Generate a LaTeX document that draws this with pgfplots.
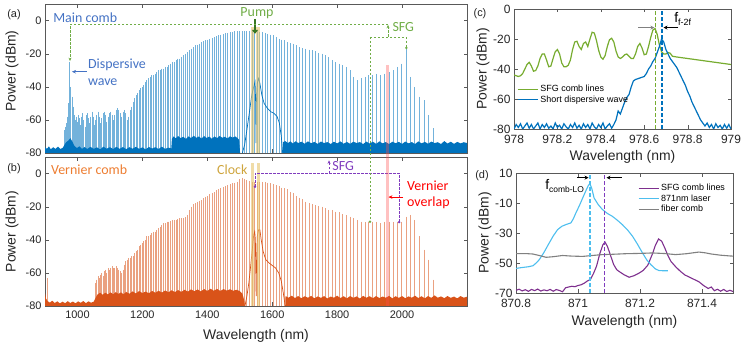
\documentclass[border=0pt]{standalone}
\usepackage{fontspec}
\setmainfont{Liberation Sans}
\newfontfamily\calib{Carlito}
\usepackage{pgfplots}
\usepackage{pgfplotstable}
\pgfplotsset{compat=1.18}
\usetikzlibrary{arrows.meta}

\definecolor{mblue}{RGB}{0,114,189}
\definecolor{morange}{RGB}{217,83,25}
\definecolor{mgreen}{RGB}{119,172,48}
\definecolor{mpurple}{RGB}{126,47,142}
\definecolor{mcyan}{RGB}{77,190,238}
\definecolor{agreen}{RGB}{112,173,71}
\definecolor{dgreen}{RGB}{56,118,34}
\definecolor{apurple}{RGB}{128,60,190}
\definecolor{ablue}{RGB}{68,114,196}
\definecolor{aorange}{RGB}{237,125,49}
\definecolor{clockc}{RGB}{206,164,60}
\definecolor{bandc}{RGB}{230,196,110}

\newcommand\tlfont{\fontsize{11}{12}\selectfont}
\newcommand\tlfontc{\fontsize{12}{13}\selectfont}
\newcommand\lbfont{\fontsize{14}{16}\selectfont}
\newcommand\anfont{\calib\fontsize{14}{16}\selectfont}

% main comb (a): line wavelength (nm), peak power (dBm)
\pgfplotstableread{
x y
960.9 -66
964.0 -64
967.1 -62
970.2 -58
973.4 -50
976.5 -25
979.7 -40
982.9 -46
986.2 -52
989.4 -57
992.7 -60
996.0 -58
999.3 -61
1002.7 -57
1006.0 -59
1009.4 -63
1012.8 -58
1016.3 -56
1019.7 -60
1023.2 -64
1026.7 -57
1030.2 -56
1033.8 -59
1037.3 -62
1040.9 -58
1044.6 -55
1048.2 -58
1051.9 -63
1055.6 -60
1059.3 -57
1063.1 -55
1066.9 -58
1070.7 -62
1074.5 -59
1078.4 -56
1082.3 -55
1086.2 -57
1090.2 -61
1094.1 -58
1098.1 -56
1102.2 -55
1106.2 -57
1110.3 -60
1114.5 -57
1118.6 -54
1122.8 -53
1127.0 -54
1131.3 -56
1135.6 -58
1139.9 -55
1144.2 -54
1148.6 -56
1153.0 -60
1157.5 -58
1162.0 -54
1166.5 -52
1171.1 -49
1175.7 -47
1180.3 -45
1184.9 -44
1189.7 -42
1194.4 -41
1199.2 -40
1204.0 -39
1208.8 -37
1213.7 -36
1218.7 -35
1223.6 -34
1228.7 -33
1233.7 -33
1238.8 -32
1243.9 -31
1249.1 -30
1254.3 -30
1259.6 -29
1264.9 -29
1270.3 -28
1275.7 -28
1281.2 -27
1286.7 -26
1292.2 -25
1297.8 -25
1303.4 -24
1309.1 -23
1314.9 -23
1320.7 -22
1326.5 -21
1332.4 -20
1338.4 -19
1344.4 -18
1350.4 -17
1356.5 -16
1362.7 -15
1368.9 -14.5
1375.2 -14
1381.5 -13
1387.9 -12.5
1394.4 -12
1400.9 -11.5
1407.5 -11
1414.1 -10.5
1420.8 -10
1427.6 -9.5
1434.4 -9
1441.3 -8.5
1448.3 -8
1455.3 -7.5
1462.4 -7.5
1469.6 -7
1476.8 -7
1484.1 -6.5
1491.5 -6.5
1499.0 -6.5
1506.5 -6.5
1514.1 -6.5
1521.8 -6.5
1529.6 -6.5
1537.4 -6.5
1545.3 -7
1553.3 -6.5
1561.4 -7
1569.6 -7
1577.9 -7.5
1586.2 -8
1594.6 -8.5
1603.2 -9
1611.8 -10
1620.5 -11
1629.3 -11.5
1638.2 -12
1647.2 -13
1656.3 -13.5
1665.5 -14
1674.8 -15
1684.2 -16
1693.7 -16.5
1703.4 -17
1713.1 -17.5
1722.9 -18
1732.9 -18.5
1743.0 -19.5
1753.2 -20
1763.5 -21
1773.9 -22
1784.5 -24
1795.2 -25
1806.0 -26
1816.9 -27
1828.0 -28
1839.2 -30
1850.6 -34
1862.1 -36
1873.7 -35
1885.5 -34
1897.4 -33
1909.5 -33
1921.7 -32
1934.1 -33
1946.7 -32
1959.4 -31
1972.3 -30
1985.4 -28
1998.6 -26
2012.0 -16.5
2025.6 -34
2039.4 -40
2053.4 -46
2067.5 -48
2081.9 -57
2096.4 -65
}\combA

\pgfplotstableread{
x y
900 -80
900 -76.5
906 -77.5
912 -76
918 -77.8
925 -76.5
932 -77.5
940 -76.2
948 -77.6
955 -76.8
960 -75
965 -73.5
972 -72.5
978 -71
984 -73
990 -75.5
998 -77
1006 -76
1014 -77.5
1022 -76.4
1030 -77.6
1040 -76.3
1050 -77.5
1060 -76.6
1070 -77.8
1080 -76.2
1090 -77.4
1100 -76.5
1110 -77.6
1120 -76.3
1130 -77.5
1140 -76.4
1150 -77.7
1160 -76.5
1170 -77.4
1180 -76.3
1190 -77.5
1200 -76.6
1210 -77.8
1220 -76.4
1230 -77.3
1240 -76.5
1250 -77.6
1260 -76.2
1270 -77.5
1280 -76.8
1289 -77.2
1291 -71.5
1296 -70
1303 -71.2
1310 -69.8
1318 -71
1326 -70.2
1334 -71.5
1342 -70
1350 -71
1358 -69.6
1366 -70.8
1374 -70
1382 -71.3
1390 -69.8
1398 -70.9
1406 -70.1
1414 -71.4
1422 -70
1430 -71
1438 -69.7
1446 -70.8
1454 -70.2
1462 -71.2
1470 -69.9
1478 -70.7
1486 -70
1493 -71
1498 -72
1501 -80
}\floorAl

\pgfplotstableread{
x y
1508 -80
1515 -75
1522 -66
1530 -55
1537 -45
1543 -40
1547 -37
1549 -50
1550 -74
1551 -50
1554 -38
1558 -35
1562 -38
1568 -45
1575 -50
1585 -53
1595 -55
1605 -56
1615 -58
1622 -62
1628 -70
1632 -80
}\pedA

\pgfplotstableread{
x y
1632 -80
1633 -73.5
1640 -72.8
1648 -74
1656 -73
1664 -74.3
1672 -72.9
1680 -74
1690 -73.2
1700 -74.4
1710 -73
1720 -74.1
1730 -73.3
1740 -74.5
1750 -73.1
1760 -74
1770 -73.4
1780 -74.6
1790 -73.2
1800 -74.2
1810 -73
1820 -74.4
1830 -73.3
1840 -74.5
1850 -73.2
1860 -74
1870 -73.4
1880 -74.6
1890 -73.1
1900 -74.3
1910 -73.2
1920 -74.5
1930 -73
1940 -74.2
1950 -73.4
1960 -74.6
1970 -73.2
1980 -74.1
1990 -73.3
2000 -74.5
2010 -73.1
2020 -74.2
2030 -73.4
2040 -74.6
2050 -73
2060 -74.2
2070 -73.3
2080 -74.4
2090 -73.1
2100 -74
2110 -73.5
2120 -74.6
2130 -72.8
2140 -74.3
2150 -73.2
2160 -74.5
2170 -73.3
2180 -74.2
2190 -73.5
2200 -74
2200 -80
}\floorAr

% Vernier comb (b)
\pgfplotstableread{
x y
906.0 -63
1055.6 -66
1059.3 -64
1063.1 -62
1066.9 -63
1070.7 -61
1074.5 -60
1078.4 -62
1082.3 -59
1086.2 -58
1090.2 -60
1094.1 -57
1098.1 -58
1102.2 -57
1106.2 -56
1110.3 -57
1114.5 -57
1118.6 -56
1122.8 -57
1127.0 -58
1131.3 -59
1135.6 -60
1139.9 -58
1144.2 -55
1148.6 -53
1153.0 -52
1157.5 -51
1162.0 -51
1166.5 -50
1171.1 -50
1175.7 -48
1180.3 -47
1184.9 -46
1189.7 -44
1194.4 -43
1199.2 -42
1204.0 -41
1208.8 -40
1213.7 -38
1218.7 -38
1223.6 -37
1228.7 -36
1233.7 -35
1238.8 -35
1243.9 -34
1249.1 -33
1254.3 -32
1259.6 -31
1264.9 -30
1270.3 -30
1275.7 -29
1281.2 -29
1286.7 -28.5
1292.2 -28
1297.8 -28
1303.4 -28
1309.1 -27.5
1314.9 -27
1320.7 -27
1326.5 -27
1332.4 -26.5
1338.4 -25
1344.4 -22
1350.4 -20
1356.5 -18.5
1362.7 -18
1368.9 -17
1375.2 -16.5
1381.5 -16
1387.9 -15
1394.4 -14
1400.9 -13.5
1407.5 -12.5
1414.1 -12
1420.8 -11
1427.6 -10
1434.4 -9.5
1441.3 -9
1448.3 -8
1455.3 -7.5
1462.4 -7
1469.6 -6.5
1476.8 -6
1484.1 -5.5
1491.5 -5
1499.0 -3.5
1506.5 -2.5
1514.1 -3
1521.8 -4
1529.6 -4.5
1537.4 -5
1545.3 -5
1553.3 -5
1561.4 -5
1569.6 -5
1577.9 -5
1586.2 -5.5
1594.6 -6
1603.2 -6.5
1611.8 -7
1620.5 -7.5
1629.3 -8.5
1638.2 -9
1647.2 -9.5
1656.3 -11
1665.5 -12
1674.8 -13.5
1684.2 -14.5
1693.7 -15.5
1703.4 -17
1713.1 -18
1722.9 -18.5
1732.9 -19
1743.0 -19.5
1753.2 -20
1763.5 -21
1773.9 -22
1784.5 -22
1795.2 -23
1806.0 -23.5
1816.9 -24.5
1828.0 -25
1839.2 -26
1850.6 -27
1862.1 -28
1873.7 -29
1885.5 -29.5
1897.4 -29
1909.5 -29
1921.7 -29
1934.1 -30
1946.7 -29
1959.4 -29
1972.3 -29
1985.4 -29
1998.6 -29
2012.0 -26
2025.6 -25
2039.4 -28
2053.4 -38
2067.5 -46
2081.9 -52
2096.4 -64
}\combB

\pgfplotstableread{
x y
900 -80
900 -72
903 -75.5
908 -77
915 -78
922 -76.8
930 -78.2
938 -77.2
946 -78.4
954 -77.4
962 -78.3
970 -77.1
978 -78.2
986 -77.3
994 -78.4
1002 -77.2
1010 -78.1
1018 -77
1026 -78.3
1034 -77.2
1042 -78
1050 -77.4
1056 -75
1062 -73
1070 -72
1078 -73.2
1086 -72
1094 -73
1102 -71.8
1110 -72.9
1118 -71.6
1126 -72.7
1134 -71.8
1142 -72.9
1150 -71.5
1160 -72.6
1170 -71.2
1180 -72.4
1190 -71
1200 -72.2
1210 -71.3
1220 -72.3
1230 -70.9
1240 -72
1250 -70.8
1260 -71.9
1270 -70.6
1280 -71.7
1290 -70.5
1300 -71.6
1310 -70.4
1320 -71.5
1330 -70.2
1340 -71.3
1350 -70
1360 -71.1
1370 -70
1380 -71.2
1390 -69.8
1400 -70.9
1410 -69.6
1420 -70.8
1430 -69.7
1440 -70.9
1450 -69.8
1460 -70.7
1470 -69.9
1480 -70.8
1490 -70.2
1500 -71
1508 -72.5
1513 -76
1516 -80
}\floorBl

\pgfplotstableread{
x y
1516 -80
1522 -74
1528 -66
1534 -55
1539 -45
1543 -37
1546 -35
1548 -40
1549.5 -60
1550.5 -74
1551.5 -55
1554 -38
1558 -34
1562 -34
1566 -40
1572 -47
1580 -52
1590 -54
1600 -55.5
1610 -57
1620 -60
1628 -65
1634 -72
1640 -80
}\pedB

\pgfplotstableread{
x y
1640 -80
1641 -74
1650 -75
1660 -73.8
1670 -75.2
1680 -74
1690 -75.3
1700 -74.1
1710 -75
1720 -73.9
1730 -75.4
1740 -74.2
1750 -75.1
1760 -74
1770 -75.5
1780 -74.3
1790 -75
1800 -73.8
1810 -75.2
1820 -74.1
1830 -75.4
1840 -74
1850 -75.1
1860 -74.2
1870 -75.5
1880 -73.9
1890 -75
1900 -74.1
1910 -75.3
1920 -74
1930 -75.2
1940 -74.3
1950 -75
1960 -73.9
1970 -75.4
1980 -74.1
1990 -75.1
2000 -74
2010 -75.3
2020 -74.2
2030 -75
2040 -73.8
2050 -75.2
2060 -74.1
2070 -75.4
2080 -74
2090 -75.1
2100 -73.6
2110 -75
2120 -74.2
2130 -75.3
2140 -74
2150 -75.1
2160 -74.3
2170 -75.4
2180 -74
2190 -75
2200 -74.4
2200 -80
}\floorBr

% (c)
\pgfplotstableread{
x y
978.000 -44
978.010 -44.5
978.020 -45
978.030 -44.5
978.040 -43
978.050 -40
978.060 -37
978.070 -35.5
978.080 -38
978.090 -41.5
978.100 -41
978.110 -38
978.120 -33
978.130 -30
978.140 -30
978.150 -34
978.160 -38.5
978.170 -38
978.180 -33
978.190 -28.5
978.200 -27
978.210 -30
978.220 -36
978.230 -38.5
978.240 -38.5
978.250 -37.5
978.260 -34
978.270 -27
978.280 -22
978.290 -21.5
978.300 -25
978.310 -27
978.320 -23
978.330 -22
978.340 -25
978.350 -20
978.360 -15.5
978.370 -16
978.380 -21
978.390 -27.5
978.400 -32
978.410 -33.5
978.420 -31
978.430 -25
978.440 -20.5
978.450 -19.5
978.460 -22
978.470 -28
978.480 -32
978.490 -33
978.500 -32
978.510 -30.5
978.520 -30
978.530 -31.5
978.540 -33
978.550 -33
978.560 -30
978.570 -25
978.580 -23
978.590 -26
978.600 -30.5
978.610 -30
978.620 -25
978.630 -19
978.640 -14
978.650 -13
978.660 -17
978.670 -24
978.680 -28.5
978.690 -30
978.700 -30
978.710 -29
978.720 -29.5
978.730 -31.5
978.750 -32
978.800 -33
978.850 -34
978.900 -35
978.950 -36
979.000 -37
}\sfgC

\pgfplotstableread{
x y
978.000 -80
978.010 -77
978.020 -79
978.030 -76.5
978.040 -80
978.050 -78
978.060 -76
978.070 -79.5
978.080 -77
978.090 -80
978.100 -78
978.110 -76
978.120 -80
978.130 -77
978.140 -79
978.150 -76.5
978.160 -79.5
978.170 -78
978.180 -80
978.190 -76
978.200 -79
978.210 -77.5
978.220 -80
978.230 -76.5
978.240 -78.5
978.250 -80
978.260 -77
978.270 -79
978.280 -76
978.290 -79.5
978.300 -77.5
978.310 -80
978.320 -76.5
978.330 -79
978.340 -77
978.350 -80
978.360 -76
978.370 -78.5
978.380 -80
978.390 -77
978.400 -79
978.410 -76
978.420 -80
978.430 -78
978.440 -76.5
978.450 -79.5
978.460 -77
978.470 -74
978.480 -68
978.490 -70
978.500 -66
978.510 -62
978.520 -59
978.530 -57
978.540 -52
978.550 -48
978.560 -47
978.580 -46
978.600 -45
978.610 -43
978.620 -40
978.630 -38
978.640 -35
978.650 -33
978.660 -29
978.670 -25
978.680 -20
978.690 -22
978.700 -27
978.710 -30
978.720 -33
978.730 -35
978.740 -37
978.750 -39
978.760 -42
978.770 -45
978.780 -48
978.790 -51
978.800 -55
978.810 -58
978.820 -62
978.830 -65
978.840 -68
978.850 -71
978.860 -74
978.870 -76
978.880 -78
978.890 -76
978.900 -79
978.910 -77
978.920 -80
978.930 -76.5
978.940 -79
978.950 -77.5
978.960 -80
978.970 -77
978.980 -79.5
978.990 -77
979.000 -80
}\dwC

% (d)
\pgfplotstableread{
x y
870.800 -68.2
870.810 -67.5
870.820 -68.6
870.830 -67.8
870.840 -68.9
870.850 -67.6
870.860 -68.4
870.870 -67.4
870.880 -68.7
870.890 -67.9
870.900 -68.5
870.910 -67.6
870.920 -68.8
870.930 -67.7
870.940 -68.3
870.950 -69.2
870.960 -66.5
870.970 -66
870.980 -65.5
870.990 -65.8
871.000 -65
871.010 -64.5
871.020 -63.5
871.030 -62
871.040 -61
871.050 -57
871.060 -52
871.070 -44
871.080 -38
871.087 -36
871.095 -39
871.105 -45
871.115 -51
871.125 -54.5
871.135 -56
871.150 -58
871.165 -59.5
871.180 -58.5
871.195 -57
871.210 -55
871.225 -51.5
871.240 -44
871.250 -38
871.260 -34
871.270 -35.5
871.280 -40
871.290 -45
871.300 -49
871.315 -52.5
871.330 -55.5
871.345 -58
871.360 -59.5
871.375 -61
871.390 -62.5
871.405 -65
871.420 -67
871.430 -66
871.440 -68.5
871.450 -67.5
871.460 -68.8
871.470 -67.6
871.480 -69
871.490 -68.2
871.500 -69
}\sfgD

\pgfplotstableread{
x y
870.800 -53.6
870.820 -53
870.840 -52.5
870.855 -51.8
870.865 -50
870.875 -47.8
870.890 -43
870.907 -36.7
870.920 -32
870.934 -27.8
870.948 -25.5
870.961 -24.4
870.977 -23.3
870.985 -20.5
870.993 -16.7
871.005 -11.5
871.015 -6.7
871.025 -2
871.033 1.5
871.038 3
871.044 0
871.052 -6.7
871.065 -11
871.079 -14.4
871.095 -17
871.111 -18.9
871.127 -21.5
871.143 -24.4
871.160 -28
871.176 -32.2
871.192 -37.5
871.208 -43.3
871.222 -48
871.235 -51.1
871.250 -54
871.262 -55.1
871.290 -55.2
}\lasD

\pgfplotstableread{
x y
870.800 -43.8
870.830 -43.7
870.854 -44
870.875 -45
870.897 -46.2
870.920 -45.8
870.950 -45
870.980 -45.4
871.015 -45.6
871.045 -45
871.079 -44.4
871.110 -44.2
871.154 -43.8
871.200 -43.6
871.240 -43.3
871.280 -43.7
871.315 -44.4
871.350 -43.8
871.390 -42.7
871.410 -43.2
871.430 -44
871.460 -44.8
871.490 -45.3
871.500 -45.4
}\fibD

\tikzset{ann/.style={line width=0.8bp, dash pattern=on 2.5bp off 1.5bp}}
\pgfplotsset{
  panel/.style={
    scale only axis, anchor=south west, clip mode=individual,
    axis line style={black!65}, tick style={black!65},
    major tick length=3.5bp, tick align=inside,
    label style={font=\lbfont, text=black!85},
    every tick label/.append style={text=black!85},
    xlabel style={anchor=center}, ylabel style={anchor=center},
    /pgf/number format/assume math mode=true,
    /pgf/number format/1000 sep={},
    scaled ticks=false,
  },
  comb/.style={draw=none, mark=none, forget plot,
    error bars/.cd, y dir=minus, y fixed=100, error mark=none,
    error bar style={draw=#1, line width=0.75bp, opacity=0.55}},
}

\begin{document}
\begin{tikzpicture}
\path[use as bounding box] (0,0) rectangle (748bp,346bp);

% ---------- (a) main comb ----------
\begin{axis}[panel, at={(45bp,193bp)}, width=422bp, height=149bp,
  xmin=900, xmax=2200, ymin=-80, ymax=10,
  xtick={1000,1200,...,2000}, xticklabels={},
  ytick={-80,-60,...,0}, tick label style={font=\tlfont},
  ylabel={Power (dBm)}, ylabel style={at={(axis description cs:-0.078,0.55)}}]
\addplot[comb=mblue] table {\combA};
\addplot[fill=mblue, draw=none, forget plot] table {\floorAl};
\addplot[draw=mblue, line width=0.7bp, forget plot] table {\pedA};
\addplot[fill=mblue, draw=none, forget plot] table {\floorAr};
\fill[bandc, opacity=0.6] (axis cs:1534,-3.9) rectangle (axis cs:1543,-80);
\fill[bandc, opacity=0.6] (axis cs:1551,-3.9) rectangle (axis cs:1561,-80);
\node[anchor=west, inner sep=0, text=ablue, font=\anfont] at (axis cs:925,1.5) {Main comb};
\node[anchor=west, inner sep=0, text=ablue, font=\anfont] at (axis cs:1032,-26.8) {Dispersive};
\node[anchor=west, inner sep=0, text=ablue, font=\anfont] at (axis cs:1032,-37.1) {wave};
\draw[ablue, line width=0.8bp, -{Stealth[length=4bp,width=3.5bp]}] (axis cs:1029,-30.9) -- (axis cs:983,-30.9);
\node[inner sep=0, text=agreen, font=\anfont] at (axis cs:1553,4.6) {Pump};
\draw[dgreen, line width=2.2bp, -{Triangle[width=6bp,length=4bp]}] (axis cs:1547,1) -- (axis cs:1547,-8);
\draw[agreen, ann, -{Stealth[length=3.5bp,width=3bp]}] (axis cs:1956.7,-2.1) -- (axis cs:977,-2.1) -- (axis cs:977,-24.5);
\draw[agreen, ann, -{Stealth[length=3.5bp,width=3bp]}] (axis cs:1956.7,-9.9) -- (axis cs:1956.7,-2.6);
\draw[agreen, ann] (axis cs:1901,-9.9) -- (axis cs:2013,-9.9) -- (axis cs:2013,-16.5);
\fill[agreen] (axis cs:2013,-16.5) circle (1.4bp);
\node[anchor=west, inner sep=0, text=agreen, font=\anfont] at (axis cs:1970,-3.9) {SFG};
\coordinate (ga) at (axis cs:1901,-9.9);
\coordinate (rtl) at (axis cs:1950,-26.8);
\end{axis}

% ---------- (b) vernier comb ----------
\begin{axis}[panel, at={(45bp,40bp)}, width=422bp, height=149bp,
  xmin=900, xmax=2200, ymin=-80, ymax=10,
  xtick={1000,1200,...,2000},
  ytick={-80,-60,...,0}, tick label style={font=\tlfont},
  xticklabel style={yshift=-1.5bp},
  xlabel={Wavelength (nm)}, xlabel style={at={(axis description cs:0.5,-0.2)}},
  ylabel={Power (dBm)}, ylabel style={at={(axis description cs:-0.078,0.5)}}]
\addplot[comb=morange] table {\combB};
\addplot[fill=morange, draw=none, forget plot] table {\floorBl};
\addplot[draw=morange, line width=0.7bp, forget plot] table {\pedB};
\addplot[fill=morange, draw=none, forget plot] table {\floorBr};
\fill[bandc, opacity=0.6] (axis cs:1534,6.4) rectangle (axis cs:1544,-80);
\fill[bandc, opacity=0.6] (axis cs:1552,6.4) rectangle (axis cs:1562,-80);
\node[anchor=west, inner sep=0, text=aorange, font=\anfont] at (axis cs:918,2.1) {Vernier comb};
\node[anchor=west, inner sep=0, text=clockc, font=\anfont] at (axis cs:1430,2.1) {Clock};
\draw[apurple, ann] (axis cs:1547,-8) -- (axis cs:1547,0.3) -- (axis cs:1991,0.3) -- (axis cs:1991,-29.3);
\fill[apurple] (axis cs:1547,-8) circle (1.4bp);
\fill[apurple] (axis cs:1991,-29.3) circle (1.4bp);
\draw[apurple, ann, -{Stealth[length=3.5bp,width=3bp]}] (axis cs:1775,0.3) -- (axis cs:1775,8);
\node[anchor=west, inner sep=0, text=apurple, font=\anfont] at (axis cs:1785,4.8) {SFG};
\draw[red, line width=0.8bp, -{Stealth[length=4bp,width=3.5bp]}] (axis cs:2003,-14.2) -- (axis cs:1958,-14.2);
\node[anchor=west, inner sep=0, text=red, font=\anfont] at (axis cs:2015,-7.5) {Vernier};
\node[anchor=west, inner sep=0, text=red, font=\anfont] at (axis cs:2015,-17.8) {overlap};
\coordinate (gb) at (axis cs:1901,-29.1);
\coordinate (rbr) at (axis cs:1959,-80);
\end{axis}

\fill[red!70, opacity=0.35] (rtl) rectangle (rbr);
\draw[agreen, ann] (ga) -- (gb);
\fill[agreen] (gb) circle (1.4bp);

% ---------- (c) ----------
\begin{axis}[panel, at={(514bp,217bp)}, width=217bp, height=120bp,
  xmin=978, xmax=979, ymin=-80, ymax=0,
  xtick={978,978.2,978.4,978.6,978.8,979}, ytick={-80,-60,-40,-20,0},
  tick label style={font=\tlfontc},
  xticklabel style={yshift=-2.5bp},
  xlabel={Wavelength (nm)}, xlabel style={at={(axis description cs:0.5,-0.233)}},
  ylabel={Power (dBm)}, ylabel style={at={(axis description cs:-0.143,0.5)}},
  legend style={draw=none, fill=none, at={(0.0,0.40)}, anchor=north west,
    font=\fontsize{9}{10}\selectfont, row sep=-1.5bp},
  legend cell align=left,
  legend image code/.code={\draw[#1, line width=1.2bp] (0bp,0bp) -- (20bp,0bp);}]
\addplot[mgreen, line width=1.2bp] table {\sfgC};
\addlegendentry{SFG comb lines}
\addplot[mblue, line width=1.2bp] table {\dwC};
\addlegendentry{Short dispersive wave}
\addplot[forget plot, mgreen, line width=1.2bp, dash pattern=on 4bp off 2bp] coordinates {(978.653,-80) (978.653,0)};
\addplot[forget plot, mblue, line width=1.6bp, dash pattern=on 4bp off 2bp] coordinates {(978.683,-80) (978.683,0)};
\draw[black!50, line width=1bp, -{Stealth[length=4bp,width=4bp]}] (axis cs:978.572,-12.4) -- (axis cs:978.647,-12.4);
\draw[black, line width=1bp, -{Stealth[length=4bp,width=4bp]}] (axis cs:978.757,-12.4) -- (axis cs:978.689,-12.4);
\node[anchor=west, inner sep=0] at (axis cs:978.738,-6.5) {\fontsize{14}{14}\selectfont f\raisebox{-3bp}{\fontsize{9}{9}\selectfont f-2f}};
\end{axis}

% ---------- (d) ----------
\begin{axis}[panel, at={(516bp,53bp)}, width=217bp, height=120bp,
  xmin=870.8, xmax=871.5, ymin=-70, ymax=10,
  xtick={870.8,871,871.2,871.4}, ytick={-70,-50,-30,-10,10},
  tick label style={font=\tlfontc},
  xticklabel style={yshift=-2.5bp},
  xlabel={Wavelength (nm)}, xlabel style={at={(axis description cs:0.5,-0.242)}},
  ylabel={Power (dBm)}, ylabel style={at={(axis description cs:-0.143,0.5)}},
  legend style={draw=none, fill=none, at={(0.548,0.94)}, anchor=north west,
    font=\fontsize{9}{10}\selectfont, row sep=-1.5bp},
  legend cell align=left,
  legend image code/.code={\draw[#1, line width=1.1bp] (0bp,0bp) -- (20bp,0bp);}]
\addplot[mpurple, line width=1.1bp] table {\sfgD};
\addlegendentry{SFG comb lines}
\addplot[mcyan, line width=1.1bp] table {\lasD};
\addlegendentry{871nm laser}
\addplot[black!50, line width=1.1bp] table {\fibD};
\addlegendentry{fiber comb}
\addplot[forget plot, mcyan, line width=1.8bp, dash pattern=on 4bp off 2bp] coordinates {(871.039,-70) (871.039,10)};
\addplot[forget plot, apurple, line width=1.2bp, dash pattern=on 4bp off 2bp] coordinates {(871.086,-70) (871.086,10)};
\draw[black, line width=0.9bp, -{Stealth[length=4bp,width=4bp]}] (axis cs:870.996,6.9) -- (axis cs:871.034,6.9);
\draw[black, line width=0.9bp, -{Stealth[length=4bp,width=4bp]}] (axis cs:871.141,6.9) -- (axis cs:871.092,6.9);
\node[anchor=west, inner sep=0] at (axis cs:870.894,1.3) {\fontsize{14}{14}\selectfont f\raisebox{-3bp}{\fontsize{8.5}{9}\selectfont comb-LO}};
\end{axis}

\node[font=\fontsize{11}{12}\selectfont, text=black!85] at (14bp,331bp) {(a)};
\node[font=\fontsize{11}{12}\selectfont, text=black!85] at (14bp,177bp) {(b)};
\node[font=\fontsize{11}{12}\selectfont, text=black!85] at (480bp,332bp) {(c)};
\node[font=\fontsize{11}{12}\selectfont, text=black!85] at (482bp,170bp) {(d)};
\end{tikzpicture}
\end{document}
